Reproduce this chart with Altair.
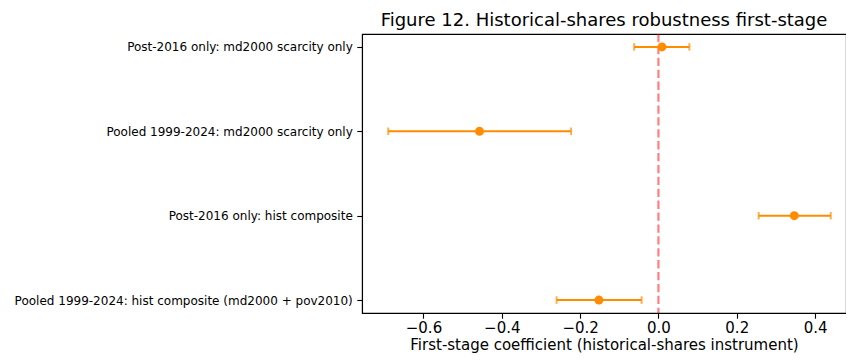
import altair as alt
import pandas as pd

labels = [
    "Post-2016 only: md2000 scarcity only",
    "Pooled 1999-2024: md2000 scarcity only",
    "Post-2016 only: hist composite",
    "Pooled 1999-2024: hist composite (md2000 + pov2010)",
]
coef = [0.009, -0.457, 0.347, -0.152]
ci_lo = [-0.062, -0.690, 0.256, -0.260]
ci_hi = [0.079, -0.223, 0.440, -0.043]
x_ticks = [-0.6, -0.4, -0.2, 0.0, 0.2, 0.4]

df = pd.DataFrame({"label": labels, "coef": coef, "lo": ci_lo, "hi": ci_hi})

FONT = "DejaVu Sans"
ORANGE = "#ff8c00"
XTITLE = "First-stage coefficient (historical-shares instrument)"

xscale = alt.Scale(domain=[-0.757, 0.479], nice=False, zero=False)
yscale = alt.Scale(type="point", domain=labels, padding=0.153)

xaxis = alt.Axis(
    title=XTITLE,
    values=x_ticks,
    format=".1f",
    grid=False,
    tickSize=5.2,
    tickWidth=1.1,
    tickColor="black",
    domainColor="black",
    domainWidth=1.1,
    labelFont=FONT,
    labelFontSize=15,
    labelColor="black",
    labelPadding=2.5,
    titleFont=FONT,
    titleFontSize=15,
    titleFontWeight="normal",
    titleColor="black",
    titlePadding=2,
)
yaxis = alt.Axis(
    title=None,
    grid=False,
    tickSize=5.2,
    tickWidth=1.1,
    tickColor="black",
    domainColor="black",
    domainWidth=1.1,
    labelFont=FONT,
    labelFontSize=12,
    labelColor="black",
    labelPadding=4.5,
    labelLimit=400,
)


def X(field):
    return alt.X(field, type="quantitative", scale=xscale, axis=xaxis, title=XTITLE)


def Y():
    return alt.Y("label", type="nominal", scale=yscale, axis=yaxis, title=None)


base = alt.Chart(df)

bars = base.mark_rule(color=ORANGE, strokeWidth=2).encode(x=X("lo"), x2="hi", y=Y())
cap_lo = base.mark_tick(color=ORANGE, orient="vertical", size=7.5, thickness=2).encode(x=X("lo"), y=Y())
cap_hi = base.mark_tick(color=ORANGE, orient="vertical", size=7.5, thickness=2).encode(x=X("hi"), y=Y())
vline = alt.Chart(pd.DataFrame({"z": [0.0]})).mark_rule(
    color="red", opacity=0.5, strokeWidth=2.2, strokeDash=[8.3, 3.6]
).encode(x=X("z"))
points = base.mark_point(filled=True, shape="circle", size=80, color=ORANGE, opacity=1).encode(
    x=X("coef"), y=Y()
)

chart = (
    alt.layer(vline, bars, cap_lo, cap_hi, points)
    .properties(
        width=484,
        height=279,
        autosize=alt.AutoSizeParams(type="none"),
        padding={"left": 354, "top": 26, "right": 0, "bottom": 41},
        title=alt.TitleParams(
            "Figure 12. Historical-shares robustness first-stage",
            font=FONT,
            fontSize=18,
            fontWeight="normal",
            color="black",
            anchor="middle",
            offset=3,
        ),
    )
    .configure(background="white")
    .configure_view(stroke="black", strokeWidth=1.1)
)

chart.save("out.html", embed_options={"renderer": "svg", "actions": False})
